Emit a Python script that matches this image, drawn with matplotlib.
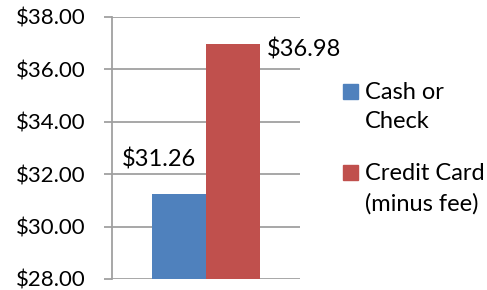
import matplotlib.pyplot as plt
from matplotlib.patches import Rectangle

# values
series = ["Cash or\nCheck", "Credit Card\n(minus fee)"]
values = [31.26, 36.98]
value_labels = ["$31.26", "$36.98"]
colors = ["#4F81BD", "#C0504D"]
yticks = [28, 30, 32, 34, 36, 38]

plt.rcParams['font.family'] = ['Lato', 'DejaVu Sans']

W, H = 487, 290
fig = plt.figure(figsize=(W / 100, H / 100), dpi=100)
ax = fig.add_axes([112 / W, 11 / H, 188 / W, 262 / H])

xs = [-0.5, 0.5]
bars = ax.bar(xs, values, width=1.0, color=colors, zorder=3)

ax.set_xlim(-1.725, 1.725)
ax.set_ylim(28, 38)
ax.set_yticks(yticks)
ax.set_yticklabels(["$%.2f" % t for t in yticks], fontsize=16, color="#000000")
ax.set_xticks([])

grid = "#a0a0a0"
ax.yaxis.grid(True, color=grid, linewidth=1.3, zorder=0)
ax.tick_params(axis="y", direction="out", length=5.8, width=1.3, color=grid, pad=13.5)
for s in ["top", "right", "bottom"]:
    ax.spines[s].set_visible(False)
ax.spines["left"].set_color(grid)
ax.spines["left"].set_linewidth(1.3)
ax.spines["left"].set_zorder(4)

# data labels, placed the way they sit in the original
offsets = [(-14, 24.5), (51, -4.3)]
for b, lab, off in zip(bars, value_labels, offsets):
    ax.annotate(lab, (b.get_x() + b.get_width() / 2, b.get_height()),
                xytext=off, textcoords="offset points",
                ha="center", va="center", fontsize=17)

# legend on the right
sq = 15
tops = [84, 165]
for name, c, top in zip(series, colors, tops):
    fig.add_artist(Rectangle((343 / W, 1 - (top + sq) / H), sq / W, sq / H,
                             transform=fig.transFigure, color=c))
    fig.text(365 / W, 1 - (top - 2) / H, name, ha="left", va="top",
             fontsize=17, linespacing=1.5)

fig.savefig("out.png", dpi=100)
